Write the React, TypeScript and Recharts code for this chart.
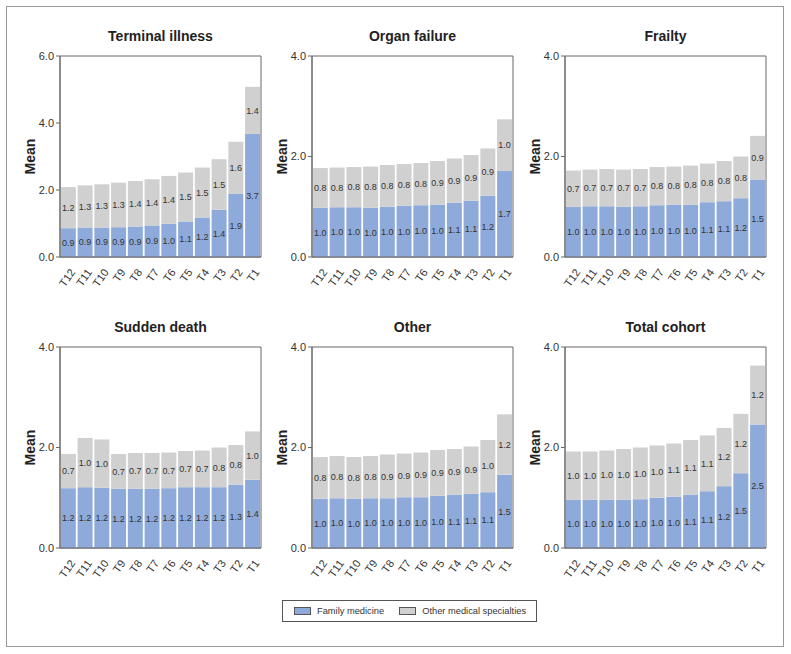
import { BarChart, Bar, XAxis, YAxis, LabelList, ReferenceArea } from "recharts";

const periods = ["T12", "T11", "T10", "T9", "T8", "T7", "T6", "T5", "T4", "T3", "T2", "T1"];

const terminalFamily = [0.86, 0.88, 0.88, 0.89, 0.91, 0.94, 0.99, 1.06, 1.18, 1.41, 1.88, 3.67];
const terminalOther = [1.23, 1.26, 1.29, 1.33, 1.36, 1.38, 1.43, 1.46, 1.49, 1.51, 1.56, 1.41];

const organFamily = [0.98, 0.99, 0.99, 0.98, 1.0, 1.02, 1.03, 1.04, 1.08, 1.12, 1.22, 1.71];
const organOther = [0.79, 0.79, 0.8, 0.82, 0.83, 0.83, 0.84, 0.87, 0.88, 0.91, 0.94, 1.03];

const frailtyFamily = [1.0, 1.01, 1.01, 1.0, 1.01, 1.03, 1.04, 1.04, 1.09, 1.11, 1.17, 1.54];
const frailtyOther = [0.72, 0.73, 0.74, 0.74, 0.74, 0.76, 0.76, 0.78, 0.77, 0.8, 0.83, 0.87];

const suddenFamily = [1.19, 1.21, 1.2, 1.18, 1.18, 1.18, 1.19, 1.21, 1.21, 1.21, 1.26, 1.36];
const suddenOther = [0.68, 0.98, 0.96, 0.69, 0.71, 0.71, 0.71, 0.72, 0.73, 0.79, 0.79, 0.96];

const otherFamily = [0.98, 0.99, 0.98, 0.99, 0.99, 1.01, 1.01, 1.04, 1.06, 1.08, 1.11, 1.46];
const otherOther = [0.83, 0.84, 0.83, 0.84, 0.87, 0.87, 0.89, 0.91, 0.91, 0.94, 1.04, 1.2];

const totalFamily = [0.96, 0.96, 0.96, 0.96, 0.97, 1.0, 1.02, 1.06, 1.13, 1.23, 1.49, 2.46];
const totalOther = [0.96, 0.96, 0.98, 1.01, 1.03, 1.04, 1.06, 1.09, 1.11, 1.16, 1.18, 1.17];

const FAMILY = "#8eaadb";
const OTHER = "#d0d0d0";
const AXIS = "#666";
const FONT = "'Liberation Sans', Arial, Helvetica, sans-serif";

interface Panel {
  title: string;
  family: number[];
  other: number[];
  max: number;
  left: number;
  top: number;
}

const panels: Panel[] = [
  { title: "Terminal illness", family: terminalFamily, other: terminalOther, max: 6, left: 60, top: 56 },
  { title: "Organ failure", family: organFamily, other: organOther, max: 4, left: 312, top: 56 },
  { title: "Frailty", family: frailtyFamily, other: frailtyOther, max: 4, left: 565, top: 56 },
  { title: "Sudden death", family: suddenFamily, other: suddenOther, max: 4, left: 60, top: 347 },
  { title: "Other", family: otherFamily, other: otherOther, max: 4, left: 312, top: 347 },
  { title: "Total cohort", family: totalFamily, other: totalOther, max: 4, left: 565, top: 347 },
];

const PLOT_W = 201;
const PLOT_H = 201;
const Y_W = 60;

// eslint-disable-next-line @typescript-eslint/no-explicit-any
function XTick(props: any) {
  const { x, y, payload } = props;
  const ax = x + 4;
  const ay = y + 5;
  return (
    <text
      x={ax}
      y={ay}
      transform={`rotate(-55, ${ax}, ${ay})`}
      textAnchor="end"
      dominantBaseline="central"
      fontSize={11}
      fill="#333"
      fontFamily={FONT}
    >
      {payload.value}
    </text>
  );
}

function PanelChart({ panel }: { panel: Panel }) {
  const data = periods.map((p, i) => ({
    period: p,
    family: panel.family[i],
    other: panel.other[i],
  }));
  const ticks = [];
  for (let t = 0; t <= panel.max; t += 2) ticks.push(t);
  return (
    <>
      <div
        style={{
          position: "absolute",
          left: panel.left,
          top: panel.top - 28,
          width: PLOT_W,
          textAlign: "center",
          fontWeight: "bold",
          fontSize: 14,
          color: "#222",
          fontFamily: FONT,
        }}
      >
        {panel.title}
      </div>
      <div style={{ position: "absolute", left: panel.left - Y_W, top: panel.top - 10 }}>
        <BarChart
          width={Y_W + PLOT_W + 5}
          height={10 + PLOT_H + 40}
          data={data}
          margin={{ top: 10, right: 5, left: 0, bottom: 0 }}
          barCategoryGap="5%"
        >
          <XAxis
            dataKey="period"
            interval={0}
            tickLine={false}
            axisLine={{ stroke: AXIS }}
            height={40}
            tick={<XTick />}
          />
          <YAxis
            width={Y_W}
            domain={[0, panel.max]}
            ticks={ticks}
            tickFormatter={(v: number) => v.toFixed(1)}
            tick={{ fontSize: 11, fill: "#333", fontFamily: FONT }}
            tickSize={4}
            tickLine={{ stroke: AXIS }}
            axisLine={{ stroke: AXIS }}
            label={{
              value: "Mean",
              angle: -90,
              position: "insideLeft",
              offset: 30,
              style: { textAnchor: "middle", fontWeight: "bold", fontSize: 14, fill: "#222", fontFamily: FONT },
            }}
          />
          <Bar dataKey="family" stackId="a" fill={FAMILY} isAnimationActive={false}>
            <LabelList
              dataKey="family"
              position="center"
              formatter={(v: number) => v.toFixed(1)}
              style={{ fontSize: 9, fill: "#333", fontFamily: FONT }}
            />
          </Bar>
          <Bar dataKey="other" stackId="a" fill={OTHER} isAnimationActive={false}>
            <LabelList
              dataKey="other"
              position="center"
              formatter={(v: number) => v.toFixed(1)}
              style={{ fontSize: 9, fill: "#333", fontFamily: FONT }}
            />
          </Bar>
          <ReferenceArea y1={0} y2={panel.max} fill="none" stroke={AXIS} strokeWidth={1} ifOverflow="visible" />
        </BarChart>
      </div>
    </>
  );
}

function LegendItem({ color, label, gap }: { color: string; label: string; gap: number }) {
  return (
    <span style={{ display: "inline-flex", alignItems: "center", marginRight: gap, whiteSpace: "nowrap" }}>
      <span
        style={{
          display: "inline-block",
          width: 15,
          height: 6,
          background: color,
          border: "1px solid #555",
          marginRight: 6,
        }}
      />
      {label}
    </span>
  );
}

export default function App() {
  return (
    <div style={{ position: "absolute", left: 0, top: 0, width: 791, height: 654, background: "#fff", fontFamily: FONT }}>
      <div
        style={{
          position: "absolute",
          left: 6,
          top: 6,
          width: 778,
          height: 641,
          border: "1.5px solid #999",
          boxSizing: "border-box",
        }}
      />
      {panels.map((p) => (
        <PanelChart key={p.title} panel={p} />
      ))}
      <div
        style={{
          position: "absolute",
          left: 282,
          top: 600,
          width: 255,
          height: 22,
          border: "1px solid #555",
          boxSizing: "border-box",
          display: "flex",
          alignItems: "center",
          paddingLeft: 11,
          fontSize: 9.3,
          color: "#333",
          whiteSpace: "nowrap",
        }}
      >
        <LegendItem color={FAMILY} label="Family medicine" gap={15} />
        <LegendItem color={OTHER} label="Other medical specialties" gap={0} />
      </div>
    </div>
  );
}
